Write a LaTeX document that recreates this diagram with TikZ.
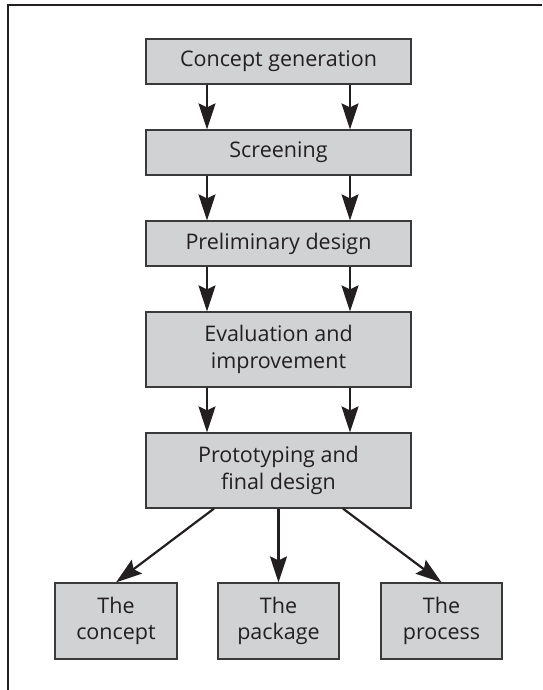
\documentclass[tikz,border=0pt]{standalone}
\usepackage{fontspec}
\setmainfont{Open Sans}
\usetikzlibrary{arrows.meta}
\definecolor{boxfill}{HTML}{D1D2D4}
\definecolor{boxline}{HTML}{3A3A3A}
\definecolor{ink}{HTML}{231F20}
\begin{document}
\begin{tikzpicture}[x=1pt,y=-1pt,
  stagebox/.style={draw=boxline, line width=1.2pt, fill=boxfill, text=ink,
    minimum width=265pt, inner sep=0pt, align=center,
    font=\fontsize{21.5}{26.5}\selectfont},
  outbox/.style={stagebox, minimum width=121pt, minimum height=76pt},
  arr/.style={draw=ink, line width=2.2pt,
    -{Stealth[length=26pt, width=17pt, inset=4pt]}}]
\useasboundingbox (0,0) rectangle (542,690);
% outer frame (top and left sides)
\draw[ink, line width=1.5pt] (8,690) -- (8,5) -- (542,5);
% main stages
\node[stagebox, minimum height=45pt] (gen)  at (278.5,61.5)  {Concept generation};
\node[stagebox, minimum height=45pt] (scr)  at (278.5,152.5) {Screening};
\node[stagebox, minimum height=45pt] (pre)  at (278.5,243.5) {Preliminary design};
\node[stagebox, minimum height=75pt] (eval) at (278.5,349.5) {Evaluation and\\improvement};
\node[stagebox, minimum height=75pt] (prot) at (278.5,470.5) {Prototyping and\\final design};
% outputs
\node[outbox, minimum width=122pt] (con) at (116,621)   {The\\concept};
\node[outbox] (pack) at (278.5,621) {The\\package};
\node[outbox] (proc) at (441.5,621) {The\\process};
% paired flow arrows
\foreach \a/\b in {gen/scr, scr/pre, pre/eval, eval/prot}{
  \draw[arr] ([xshift=-71.5pt]\a.south) -- ([xshift=-71.5pt]\b.north);
  \draw[arr] ([xshift=71.5pt]\a.south) -- ([xshift=71.5pt]\b.north);
}
% branching arrows
\draw[arr] ([xshift=-64.5pt]prot.south) -- (con.north);
\draw[arr] (prot.south) -- (pack.north);
\draw[arr] ([xshift=64.5pt]prot.south) -- (proc.north);
\end{tikzpicture}
\end{document}
